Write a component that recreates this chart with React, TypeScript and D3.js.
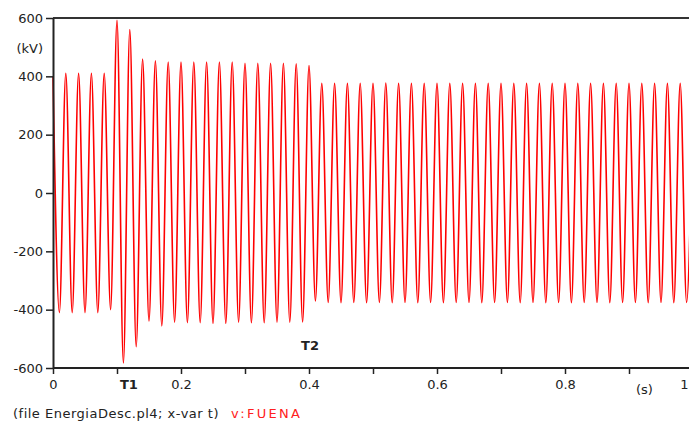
import React, { useEffect, useRef } from "react";
import * as d3 from "d3";

// 50 Hz voltage, one peak every 10 ms (positive on even steps)
const halfPeriod = 0.01;

// peaks, kV
const preFaultPeaks = [400, -410, 410, -410, 410, -410, 410, -410, 410, -400];
const transientPeaks = [592, -583, 560, -527];
const faultPeaks = [
  459, -439, 453, -456, 449, -443, 449, -445, 449, -445,
  449, -447, 449, -447, 449, -443, 445, -445, 445, -445,
  445, -443, 445, -443, 443, -442, 437,
];
const postPeaks = [
  -370, 376, -375, 376, -376, 376, -375, 376, -376, 376,
  -375, 377, -376, 376, -375, 376, -376, 376, -375, 376,
  -376, 376, -375, 376, -375, 376, -376, 376, -375, 376,
  -375, 376, -376, 376, -375, 376, -376, 376, -375, 376,
  -376, 376, -375, 376, -375, 376, -376, 376, -375, 376,
  -375, 376, -376, 376, -375, 376, -376, 376, -375, 376,
];

const yTicks = [600, 400, 200, 0, -200, -400, -600];
const xTicks = [0, 0.1, 0.2, 0.3, 0.4, 0.5, 0.6, 0.7, 0.8, 0.9, 1];
const xTickLabels = ["0", "", "0.2", "", "0.4", "", "0.6", "", "0.8", "", "1"];

const W = 689;
const H = 426;
const FONT = "DejaVu Sans, Verdana, sans-serif";
const INK = "#222";

const Chart = () => {
  const ref = useRef<SVGSVGElement>(null);

  useEffect(() => {
    const margin = { top: 18, left: 53, bottom: 58 };
    const svg = d3.select(ref.current);
    svg.selectAll("*").remove();

    const x = d3.scaleLinear().domain([0, 1]).range([margin.left, 693]);
    const y = d3.scaleLinear().domain([-600, 600]).range([H - margin.bottom, margin.top]);

    const peaks = [...preFaultPeaks, ...transientPeaks, ...faultPeaks, ...postPeaks];
    const points: [number, number][] = peaks.map((v, i) => [i * halfPeriod, v]);

    const line = d3
      .line<[number, number]>()
      .x((d) => x(d[0]))
      .y((d) => y(d[1]))
      .curve(d3.curveMonotoneX);

    svg
      .append("path")
      .datum(points)
      .attr("d", line)
      .attr("fill", "none")
      .attr("stroke", "#ff0000")
      .attr("stroke-width", 1.6);

    // top frame line
    svg
      .append("line")
      .attr("x1", x(0))
      .attr("x2", W)
      .attr("y1", y(600))
      .attr("y2", y(600))
      .attr("stroke", "#333")
      .attr("stroke-width", 2);

    // axes (plain hyphen for negatives, like the original)
    const yaxis = d3
      .axisLeft(y)
      .tickValues(yTicks)
      .tickFormat((d) => String(d))
      .tickSize(7)
      .tickSizeOuter(0)
      .tickPadding(3);
    const gy = svg.append("g").attr("transform", `translate(${x(0)},0)`).call(yaxis);

    const xaxis = d3
      .axisBottom(x)
      .tickValues(xTicks)
      .tickFormat((d, i) => xTickLabels[i])
      .tickSize(6)
      .tickSizeOuter(0)
      .tickPadding(6);
    const gx = svg.append("g").attr("transform", `translate(0,${y(-600)})`).call(xaxis);

    [gx, gy].forEach((g) => {
      g.select(".domain").attr("stroke", "#222").attr("stroke-width", 2);
      g.selectAll(".tick line").attr("stroke", "#222").attr("stroke-width", 1.5);
      g.selectAll("text").attr("font-family", FONT).attr("font-size", 13).attr("fill", INK);
    });
    gx.select(".domain").attr("d", `M${x(0)},0H${W}`);
    // last label sits on the window edge, keep it inside
    gx.selectAll<SVGTextElement, number>(".tick text")
      .filter((d) => d === 1)
      .attr("text-anchor", "end")
      .attr("dx", W - 1 - x(1));

    // units and markers
    svg
      .append("text")
      .attr("x", 43)
      .attr("y", 53)
      .attr("text-anchor", "end")
      .attr("font-family", FONT)
      .attr("font-size", 13)
      .attr("fill", INK)
      .text("(kV)");

    svg
      .append("text")
      .attr("x", x(0.9) + 7)
      .attr("y", 394)
      .attr("font-family", FONT)
      .attr("font-size", 13)
      .attr("fill", INK)
      .text("(s)");

    svg
      .append("text")
      .attr("x", x(0.1) + 3)
      .attr("y", 389)
      .attr("font-family", FONT)
      .attr("font-size", 13)
      .attr("font-weight", "bold")
      .attr("fill", INK)
      .text("T1");

    svg
      .append("text")
      .attr("x", x(0.4) + 1)
      .attr("y", 350)
      .attr("text-anchor", "middle")
      .attr("font-family", FONT)
      .attr("font-size", 13)
      .attr("font-weight", "bold")
      .attr("fill", INK)
      .text("T2");

    // caption
    const cap = svg
      .append("text")
      .attr("x", 13)
      .attr("y", 418)
      .attr("font-family", FONT)
      .attr("font-size", 13)
      .attr("letter-spacing", 0.5);
    cap.append("tspan").attr("fill", INK).text("(file EnergiaDesc.pl4; x-var t)");
    cap
      .append("tspan")
      .attr("fill", "#ff2020")
      .attr("dx", 12)
      .attr("letter-spacing", 2.3)
      .text("v:FUENA");
  }, []);

  return <svg ref={ref} width={W} height={H} style={{ display: "block" }} />;
};

export default function App() {
  return (
    <div style={{ position: "absolute", left: 0, top: 0, width: W, height: H, background: "#fff" }}>
      <Chart />
    </div>
  );
}
